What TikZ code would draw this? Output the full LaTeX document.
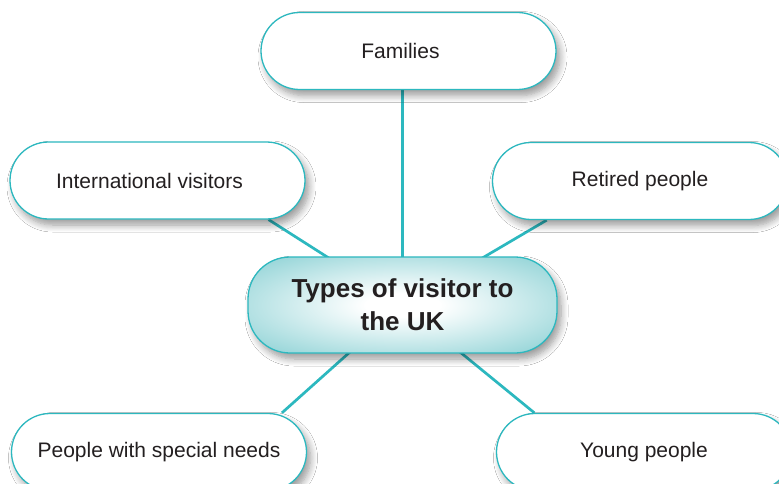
\documentclass[tikz,border=0pt]{standalone}
\usepackage{fontspec}
\setmainfont{Liberation Sans}
\usetikzlibrary{positioning, calc, backgrounds, shadows.blur}
\definecolor{TealLine}{HTML}{2CB8BF}
\definecolor{HubTeal}{HTML}{98D6D9}
\definecolor{InkText}{HTML}{231F20}
\pgfdeclareradialshading{hubglow}{\pgfpoint{0bp}{0bp}}{color(0bp)=(white); color(6bp)=(white); color(32bp)=(HubTeal); color(50bp)=(HubTeal)}

\begin{document}
\begin{tikzpicture}[x=1pt, y=-1pt,
    topicbox/.style={draw=TealLine, line width=1.3pt, fill=white, rounded corners=38.5pt,
        minimum width=295pt, minimum height=77pt, text=InkText,
        font=\fontsize{21}{25}\selectfont,
        blur shadow={shadow xshift=4pt, shadow yshift=-6pt, shadow blur radius=7pt, shadow blur steps=8, shadow opacity=40}},
    nudged/.style={execute at begin node={\hspace*{-16pt}}},
    hubbox/.style={draw=TealLine, line width=1.3pt, shading=hubglow, rounded corners=42pt,
        minimum width=309pt, minimum height=96pt, text=InkText, align=center,
        font=\fontsize{26}{33}\selectfont\bfseries,
        blur shadow={shadow xshift=4pt, shadow yshift=-6pt, shadow blur radius=7pt, shadow blur steps=8, shadow opacity=40}},
    link/.style={draw=TealLine, line width=2.7pt}]
    \useasboundingbox (0,0) rectangle (779,484);

    \node[hubbox] (hub) at (402.5,305) {Types of visitor to\\the UK};

    \node[topicbox, nudged] (fam) at (408.5,51) {Families};
    \node[topicbox, nudged] (intl) at (157.5,180.5) {International visitors};
    \node[topicbox] (retired) at (640,181) {Retired people};
    \node[topicbox] (special) at (159,452) {People with special needs};
    \node[topicbox] (young) at (644,452) {Young people};

    % spokes sit under the boxes
    \begin{scope}[on background layer]
        \fill[white] (0,0) rectangle (779,484);
        \draw[link] (hub.center) -- (hub.center |- fam.south);
        \draw[link] (hub.center) -- ($(intl.south)!0.75!(intl.south east)$);
        \draw[link] (hub.center) -- ($(retired.south)!0.63!(retired.south west)$);
        \draw[link] (hub.center) -- ($(special.north)!0.83!(special.north east)$);
        \draw[link] (hub.center) -- ($(young.north)!0.74!(young.north west)$);
    \end{scope}
\end{tikzpicture}
\end{document}
